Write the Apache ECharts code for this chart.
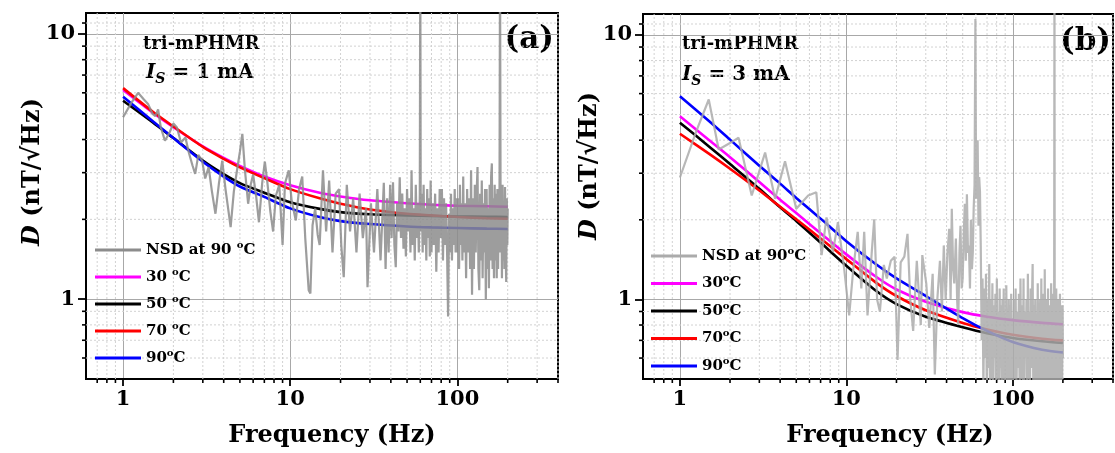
<!DOCTYPE html>
<html><head><meta charset="utf-8">
<script src="https://cdn.jsdelivr.net/npm/echarts@6/dist/echarts.min.js"></script>
<style>html,body{margin:0;padding:0;background:#fff}#c{width:1115px;height:453px}</style>
</head><body><div id="c"></div>
<script>
const FONT = 'DejaVu Serif';
// axis tick values
const xTickValues = [1, 10, 100];
const yTickValues = [1, 10];
const xMinorValues = [0.7, 0.8, 0.9, 2, 3, 4, 5, 6, 7, 8, 9, 20, 30, 40, 50, 60, 70, 80, 90, 200, 300, 400];
const yMinorValues = [0.6, 0.7, 0.8, 0.9, 2, 3, 4, 5, 6, 7, 8, 9, 11];
const X_MIN = 0.6, X_MAX = 400, Y_MIN = 0.5, Y_MAX = 12;

// fitted curves
const fitFreq = [1, 1.5, 2, 3, 4, 5, 7, 10, 15, 20, 30, 50, 70, 100, 150, 200];
const fitA30 = [6.15, 5.06, 4.45, 3.77, 3.41, 3.18, 2.9, 2.69, 2.52, 2.44, 2.36, 2.3, 2.27, 2.25, 2.24, 2.23];
const fitA50 = [5.6, 4.65, 4.05, 3.33, 2.96, 2.74, 2.52, 2.32, 2.19, 2.13, 2.09, 2.07, 2.06, 2.05, 2.045, 2.04];
const fitA70 = [6.25, 5.1, 4.48, 3.75, 3.38, 3.14, 2.86, 2.6, 2.4, 2.29, 2.18, 2.1, 2.07, 2.04, 2.02, 2.01];
const fitA90 = [5.8, 4.7, 4.05, 3.3, 2.9, 2.66, 2.43, 2.2, 2.04, 1.97, 1.92, 1.88, 1.865, 1.855, 1.845, 1.84];
const fitB30 = [4.93, 4.0, 3.45, 2.78, 2.38, 2.12, 1.78, 1.48, 1.22, 1.09, 0.98, 0.895, 0.86, 0.835, 0.815, 0.805];
const fitB50 = [4.66, 3.78, 3.25, 2.62, 2.23, 1.98, 1.64, 1.34, 1.08, 0.96, 0.86, 0.785, 0.745, 0.715, 0.695, 0.685];
const fitB70 = [4.23, 3.55, 3.12, 2.58, 2.24, 2.01, 1.7, 1.42, 1.16, 1.03, 0.91, 0.815, 0.77, 0.735, 0.71, 0.70];
const fitB90 = [5.86, 4.72, 4.02, 3.2, 2.74, 2.42, 2.02, 1.66, 1.36, 1.2, 1.03, 0.85, 0.76, 0.69, 0.645, 0.63];

// measured noise spectral density at 90 °C, [frequency, D]
const nsdA = [
[1.00,4.85],[1.12,5.5],[1.23,6.0],[1.32,5.7],[1.41,5.45],[1.50,5.0],[1.56,4.9],[1.62,5.2],[1.68,4.45],[1.78,3.96],
[1.90,4.26],[2.00,4.6],[2.10,4.44],[2.22,3.9],[2.36,4.07],[2.48,3.55],[2.60,3.2],[2.70,2.97],[2.82,3.5],[2.97,3.33],
[3.10,2.85],[3.25,3.15],[3.40,2.55],[3.57,2.1],[3.75,2.75],[3.92,3.33],[4.10,2.6],[4.25,2.2],[4.40,1.87],[4.60,2.55],
[4.80,3.05],[5.00,3.6],[5.17,4.2],[5.35,3.1],[5.60,2.29],[5.80,2.7],[6.00,2.95],[6.25,2.45],[6.50,1.95],[6.80,2.75],
[7.05,3.3],[7.30,2.75],[7.60,2.15],[7.90,1.8],[8.20,2.45],[8.60,2.7],[9.00,1.6],[9.30,2.73],[9.80,3.06],[10.2,2.35],
[10.8,1.98],[11.3,2.6],[11.8,2.9],[12.3,1.7],[12.9,1.08],[13.2,1.05],[13.6,1.9],[14.1,2.2],[14.6,1.75],[15.0,1.6],
[15.7,3.06],[16.4,1.8],[17.1,2.8],[17.9,1.5],[18.7,2.5],[19.6,2.6],[20.2,1.6],[20.9,1.21],[21.8,2.7],[22.8,1.8],
[23.8,2.4],[24.9,1.5],[26.0,2.5],[27.2,1.7],[28.4,2.2],[29.0,1.11],[30.4,2.3],[31.7,1.5],[33.2,2.6],[34.7,1.4],
[36.3,2.75],[37.2,1.3],
[38.0,2.4],[38.8,1.5],[39.6,2.7],[40.4,1.7],[41.2,2.76],[42.0,1.6],[42.8,1.32],[43.6,2.3],[44.4,1.8],[45.2,2.88],
[46.0,1.7],[46.8,2.5],[47.6,1.55],[48.4,2.2],[49.2,1.45],[50.0,2.6],[50.8,1.8],[51.6,2.4],[52.4,1.5],[53.2,3.06],
[54.0,1.6],[54.8,2.2],[55.6,1.4],[56.4,2.7],[57.2,1.7],[58.0,2.3],[58.8,1.5],[59.6,2.5],[60.0,20],[60.4,1.8],
[61.2,2.5],[62.0,1.5],[62.8,2.7],[63.6,1.6],[64.4,2.2],[65.2,1.4],[66.0,2.6],[66.8,1.7],[67.6,2.4],[68.4,1.45],
[69.2,2.8],[70.0,1.5],[71.2,2.3],[72.4,1.6],[73.6,2.5],[74.8,1.27],[76.0,2.2],[77.2,1.5],[78.4,2.6],[79.6,1.7],
[80.8,2.6],[82.0,1.4],[83.2,2.4],[84.4,1.6],[85.6,2.3],[86.8,1.5],[88.0,0.86],[89.2,2.1],[90.4,1.5],[91.6,2.5],
[92.8,1.4],[94.0,2.2],[95.2,1.6],[96.4,2.6],[97.6,1.5],[98.8,2.4],[100.0,1.5],[101.2,2.4],[102.4,1.3],[103.6,2.7],
[104.8,1.6],[106.0,2.3],[107.2,1.4],[108.4,2.9],[109.6,1.5],[111.2,2.3],[112.8,1.2],[114.4,2.6],[116.0,1.5],[117.6,2.4],
[119.2,1.3],[120.8,3.06],[122.4,1.04],[124.0,2.4],[125.6,1.3],[127.2,2.7],[128.8,1.5],[130.4,2.5],[132.0,3.15],[133.6,1.3],
[135.2,1.08],[136.8,2.5],[138.4,1.4],[140.0,2.8],[141.6,1.2],[143.2,2.3],[144.8,1.5],[146.4,2.6],[148.0,1.0],[149.6,2.6],
[151.2,1.3],[152.8,2.2],[154.4,1.1],[156.0,2.7],[157.6,1.4],[159.2,2.9],[160.8,3.25],[162.4,1.3],[164.0,2.4],[165.6,1.2],
[167.2,2.7],[168.8,1.4],[170.4,2.5],[172.0,1.2],[173.6,2.6],[175.2,1.3],[176.8,2.4],[178.4,1.5],[180.0,20],[181.6,1.5],
[183.2,2.5],[184.8,1.2],[186.4,2.7],[188.0,1.4],[189.6,2.3],[191.2,1.3],[192.8,2.65],[194.4,1.5],[196.0,1.16],[197.6,2.4],
[199.0,1.6],[200,2.2]
];
const nsdB = [
[1.00,2.89],[1.25,4.3],[1.49,5.7],[1.71,3.69],[2.0,3.9],[2.25,4.09],[2.7,2.47],[3.25,3.59],[3.73,2.4],[4.28,3.33],
[5.0,2.2],[5.9,2.47],[6.6,2.54],[7.1,1.47],[7.6,2.04],[8.3,1.51],[8.9,1.96],[9.7,1.31],[10.4,0.87],[11.0,1.3],
[11.7,1.8],[12.3,1.1],[12.8,1.8],[13.4,0.87],[14.2,1.5],[14.7,2.01],[15.3,1.0],[15.9,0.9],[16.8,1.35],[17.5,1.2],
[18.5,1.4],[19.5,1.45],[20.3,0.59],[21.2,1.38],[22.3,1.45],[23.3,1.77],[24.2,1.0],[25.2,0.76],[26.5,1.4],[28.0,0.8],
[28.6,1.47],[30.2,1.15],[31.5,0.78],[33.0,1.25],[34.0,0.52],[35.2,1.0],[36.5,1.4],[37.5,0.9],[38.5,1.6],[39.5,1.0],
[40.5,1.5],[41.5,1.85],[42.3,1.0],[43.0,2.2],[43.8,1.3],[44.5,1.15],[45.5,1.7],[46.3,1.0],[47.0,0.8],[47.8,1.5],
[48.5,1.9],[49.3,1.1],[50.0,1.2],[50.8,1.8],[51.5,2.3],[52.2,1.4],[53.0,2.5],[53.8,1.5],[54.5,1.6],[55.3,1.1],
[56.0,2.0],[56.8,1.3],[57.5,1.5],[58.2,2.2],[58.9,2.7],[59.6,11.5],[60.2,2.4],[60.8,3.2],[61.5,4.0],[62.2,1.9],
[62.8,2.9],[63.5,2.55],[64.2,1.6],
[65.0,0.7],[65.8,1.2],[66.6,0.45],[67.4,1.1],[68.2,0.6],[69.0,1.25],[69.8,0.4],[70.6,1.0],[71.4,0.55],[72.2,1.36],
[73.0,0.45],[73.8,1.0],[74.6,0.5],[75.4,1.15],[76.2,0.4],[77.0,0.95],[77.8,0.6],[78.6,1.05],[79.4,0.42],[80.2,1.2],
[81.0,0.5],[81.8,0.9],[82.6,0.4],[83.4,1.1],[84.2,0.55],[85.0,0.95],[85.8,0.42],[86.6,1.0],[87.4,0.5],[88.2,1.1],
[89.0,0.45],[89.8,0.85],[90.6,0.4],[91.4,1.13],[92.2,0.6],[93.0,0.9],[93.8,0.42],[94.6,1.0],[95.4,0.5],[96.2,0.95],
[97.0,0.4],[97.8,1.05],[98.6,0.55],[99.4,0.85],[100.4,0.4],[101.6,1.0],[102.8,0.5],[104.0,1.1],[105.2,0.42],[106.4,0.9],
[107.6,0.55],[108.8,1.05],[110.0,0.4],[111.2,1.2],[112.4,0.5],[113.6,0.95],[114.8,0.45],[116.0,1.2],[117.2,0.4],[118.4,0.9],
[119.6,0.6],[120.8,1.0],[122.0,0.42],[123.2,1.25],[124.4,0.5],[125.6,0.9],[126.8,0.4],[128.0,1.1],[129.2,0.55],[130.4,1.0],
[131.6,1.36],[132.8,0.45],[134.0,0.95],[135.2,0.4],[136.4,1.0],[137.6,0.5],[138.8,0.85],[140.0,0.42],[141.2,1.15],[142.4,0.55],
[143.6,0.9],[144.8,0.4],[146.0,1.0],[147.2,0.5],[148.4,1.2],[149.6,0.42],[150.8,0.95],[152.0,0.55],[153.2,1.05],[154.4,0.4],
[155.6,1.3],[156.8,0.5],[158.0,0.9],[159.2,0.42],[160.4,1.0],[161.6,0.55],[162.8,1.1],[164.0,0.4],[165.2,0.95],[166.4,0.5],
[167.6,0.9],[168.8,0.42],[170.0,1.15],[171.2,0.55],[172.4,0.9],[173.6,0.4],[174.8,1.05],[176.0,0.5],[177.2,0.95],[178.0,20],
[178.8,0.3],[180.0,0.9],[181.2,0.45],[182.4,1.1],[183.6,0.5],[184.8,0.85],[186.0,0.4],[187.2,1.0],[188.4,0.55],[189.6,0.9],
[190.8,0.42],[192.0,1.05],[193.2,0.5],[194.4,0.95],[195.6,0.4],[196.8,0.9],[198.0,0.5],[199.2,0.95],[200,0.6]
];

const namesA = ['NSD at 90 °C', '30 °C', '50 °C', '70 °C', '90°C'];
const namesB = ['NSD at 90°C', '30°C', '50°C', '70°C', '90°C'];
const colors = {nsdA: '#8c8c8c', nsdB: '#ababab', c30: '#ff00ff', c50: '#000000', c70: '#ff0000', c90: '#0000ff'};

const pair = (xs, ys) => xs.map((x, i) => [x, ys[i]]);

function degFmt(name) {
  const i = name.indexOf('°');
  if (i < 0) return '{t|' + name + '}';
  return '{t|' + name.slice(0, i) + '}{s|o}{t|' + name.slice(i + 1) + '}';
}
const legendRich = {
  t: {fontFamily: FONT, fontWeight: 'bold', fontSize: 15, color: '#000', lineHeight: 20},
  s: {fontFamily: FONT, fontWeight: 'bold', fontSize: 10, color: '#000', lineHeight: 10, verticalAlign: 'top'}
};
const labelFmt = (v) => {
  const r = Math.round(v);
  return (Math.abs(v - r) < 1e-6 * Math.max(1, v) && (r === 1 || r === 10 || r === 100)) ? String(r) : '';
};

function xAxis(gi, padLeft) {
  return {
    type: 'log', logBase: 10, gridIndex: gi, min: X_MIN, max: X_MAX,
    axisLine: {show: true, onZero: false, lineStyle: {color: '#000', width: 2}},
    axisTick: {show: true, length: 7, inside: false, customValues: xTickValues, lineStyle: {color: '#000', width: 1.8}},
    axisLabel: {show: true, customValues: xTickValues, formatter: labelFmt, margin: 10,
      fontFamily: FONT, fontWeight: 'bold', fontSize: 21, color: '#000'},
    splitLine: {show: true, lineStyle: {color: '#a8a8a8', width: 1}},
    name: 'Frequency (Hz)', nameLocation: 'middle', nameGap: 45,
    nameTextStyle: {fontFamily: FONT, fontWeight: 'bold', fontSize: 24, color: '#000', padding: [0, 0, 0, padLeft]}
  };
}
function yAxis(gi) {
  return {
    type: 'log', logBase: 10, gridIndex: gi, min: Y_MIN, max: Y_MAX,
    axisLine: {show: true, onZero: false, lineStyle: {color: '#000', width: 2}},
    axisTick: {show: true, length: 8, inside: false, customValues: yTickValues, lineStyle: {color: '#000', width: 1.8}},
    axisLabel: {show: true, customValues: yTickValues, formatter: labelFmt, margin: 11,
      fontFamily: FONT, fontWeight: 'bold', fontSize: 21, color: '#000'},
    splitLine: {show: true, lineStyle: {color: '#a8a8a8', width: 1}}
  };
}
function minorX(gi) {
  return {
    type: 'custom', xAxisIndex: gi, yAxisIndex: gi, silent: true, clip: false, z: 1,
    data: xMinorValues.map(v => [v, 1]),
    renderItem: (params, api) => {
      const v = api.value(0);
      const p0 = api.coord([v, Y_MIN]), p1 = api.coord([v, Y_MAX]);
      return {type: 'group', children: [
        {type: 'line', shape: {x1: p0[0], y1: p0[1], x2: p1[0], y2: p1[1]}, style: {stroke: '#d2d2d2', lineWidth: 1, lineDash: [2, 2]}},
        {type: 'line', shape: {x1: p0[0], y1: p0[1], x2: p0[0], y2: p0[1] + 4}, style: {stroke: '#000', lineWidth: 1.6}}
      ]};
    }
  };
}
function minorY(gi) {
  return {
    type: 'custom', xAxisIndex: gi, yAxisIndex: gi, silent: true, clip: false, z: 1,
    data: yMinorValues.map(v => [1, v]),
    renderItem: (params, api) => {
      const v = api.value(1);
      const p0 = api.coord([X_MIN, v]), p1 = api.coord([X_MAX, v]);
      return {type: 'group', children: [
        {type: 'line', shape: {x1: p0[0], y1: p0[1], x2: p1[0], y2: p1[1]}, style: {stroke: '#d2d2d2', lineWidth: 1, lineDash: [2, 2]}},
        {type: 'line', shape: {x1: p0[0] - 4, y1: p0[1], x2: p0[0], y2: p0[1]}, style: {stroke: '#000', lineWidth: 1.6}}
      ]};
    }
  };
}
function fit(gi, name, ys, color) {
  return {type: 'line', name, xAxisIndex: gi, yAxisIndex: gi, data: pair(fitFreq, ys), smooth: 0.25,
    showSymbol: false, clip: true, z: 3, color, lineStyle: {color, width: 2.6}};
}
function nsd(gi, name, data, color) {
  return {type: 'line', name, xAxisIndex: gi, yAxisIndex: gi, data, showSymbol: false, clip: true, z: 4,
    color, lineStyle: {color, width: 2.2, opacity: 0.85}};
}
function legend(left, top, names, gap) {
  return {orient: 'vertical', left, top, itemGap: gap, itemWidth: 46, itemHeight: 3, icon: 'rect',
    data: names, formatter: degFmt, selectedMode: false,
    textStyle: {fontFamily: FONT, fontWeight: 'bold', fontSize: 15, color: '#000', rich: legendRich}};
}
const txt = {fontFamily: FONT, fontWeight: 'bold', fill: '#000'};
function isLabel(x, y, n) {
  return {type: 'text', x, y, style: {text: '{i|I}{s|S}{t| = ' + n + ' mA}', align: 'left', verticalAlign: 'top',
    textAlign: 'left', textVerticalAlign: 'top',
    rich: {i: {fontFamily: FONT, fontWeight: 'bold', fontStyle: 'italic', fontSize: 20, lineHeight: 26, color: '#000'},
           s: {fontFamily: FONT, fontWeight: 'bold', fontStyle: 'italic', fontSize: 14, lineHeight: 14, verticalAlign: 'bottom', color: '#000'},
           t: {fontFamily: FONT, fontWeight: 'bold', fontSize: 20, lineHeight: 26, color: '#000'}}}};
}
function yTitle(x, y) {
  return {type: 'text', x, y, rotation: Math.PI / 2, style: {text: '{d|D}{t| (nT/√Hz)}', align: 'center', verticalAlign: 'middle',
    textAlign: 'center', textVerticalAlign: 'middle',
    rich: {d: {fontFamily: FONT, fontWeight: 'bold', fontStyle: 'italic', fontSize: 24, color: '#000'},
           t: {fontFamily: FONT, fontWeight: 'bold', fontSize: 24, color: '#000'}}}};
}

const option = {
  animation: false,
  backgroundColor: '#fff',
  grid: [
    {left: 86, top: 13, width: 472, height: 367, show: true, borderColor: '#000', borderWidth: 2, backgroundColor: 'transparent'},
    {left: 643, top: 14, width: 470, height: 368, show: true, borderColor: '#000', borderWidth: 2, backgroundColor: 'transparent'}
  ],
  xAxis: [xAxis(0, 20), xAxis(1, 24)],
  yAxis: [yAxis(0), yAxis(1)],
  legend: [legend(90, 235, namesA, 9.5), legend(646, 241, namesB, 10)],
  series: [
    minorX(0), minorY(0), minorX(1), minorY(1),
    fit(0, namesA[1], fitA30, colors.c30), fit(0, namesA[2], fitA50, colors.c50),
    fit(0, namesA[3], fitA70, colors.c70), fit(0, namesA[4], fitA90, colors.c90),
    nsd(0, namesA[0], nsdA, colors.nsdA),
    fit(1, namesB[1], fitB30, colors.c30), fit(1, namesB[2], fitB50, colors.c50),
    fit(1, namesB[3], fitB70, colors.c70), fit(1, namesB[4], fitB90, colors.c90),
    nsd(1, namesB[0], nsdB, colors.nsdB)
  ],
  graphic: [
    {type: 'text', x: 143, y: 35, style: Object.assign({text: 'tri-mPHMR', fontSize: 18}, txt)},
    isLabel(146, 60, 1),
    {type: 'text', x: 554, y: 24, style: Object.assign({text: '(a)', fontSize: 31, align: 'right', textAlign: 'right'}, txt)},
    {type: 'text', x: 682, y: 35, style: Object.assign({text: 'tri-mPHMR', fontSize: 18}, txt)},
    isLabel(682, 62, 3),
    {type: 'text', x: 1111, y: 26, style: Object.assign({text: '(b)', fontSize: 31, align: 'right', textAlign: 'right'}, txt)},
    yTitle(33, 172),
    yTitle(590, 166)
  ]
};
const chart = echarts.init(document.getElementById('c'), null, {renderer: 'canvas'});
chart.setOption(option);
</script></body></html>
